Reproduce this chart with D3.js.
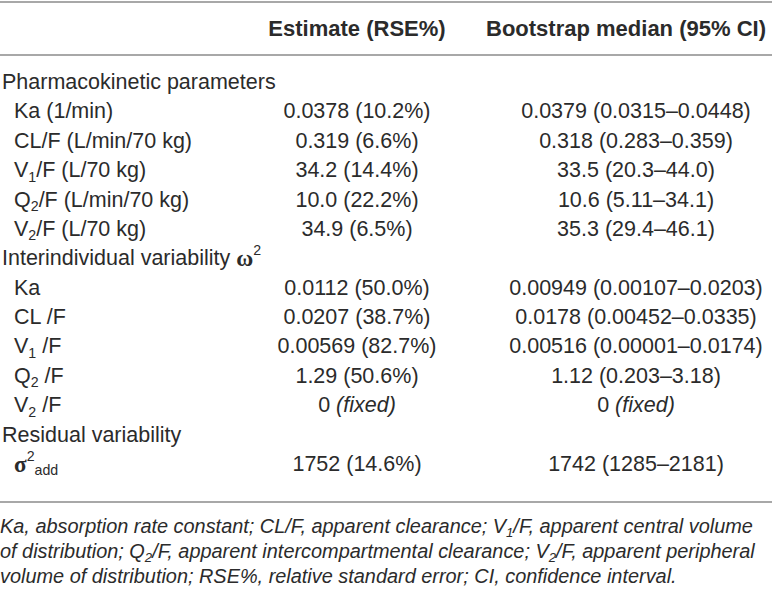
<!DOCTYPE html>
<html>
<head>
<meta charset="utf-8">
<script src="https://d3js.org/d3.v7.min.js"></script>
<style>
body{margin:0;background:#fff;}
svg text{font-family:"Liberation Sans",Arial,sans-serif;fill:#2b2b2b;}
</style>
</head>
<body>
<svg id="tbl" width="772" height="591"></svg>
<script>
// markup: {x} subscript, [x] superscript, |x| italic
var headers = ["Estimate (RSE%)", "Bootstrap median (95% CI)"];
var labels = [
  "Pharmacokinetic parameters",
  "Ka (1/min)",
  "CL/F (L/min/70 kg)",
  "V{1}/F (L/70 kg)",
  "Q{2}/F (L/min/70 kg)",
  "V{2}/F (L/70 kg)",
  "Interindividual variability ω[2]",
  "Ka",
  "CL /F",
  "V{1} /F",
  "Q{2} /F",
  "V{2} /F",
  "Residual variability",
  "σ[2]{add}"
];
var isSection = [1,0,0,0,0,0,1,0,0,0,0,0,1,0];
var estimates = ["", "0.0378 (10.2%)", "0.319 (6.6%)", "34.2 (14.4%)", "10.0 (22.2%)", "34.9 (6.5%)",
  "", "0.0112 (50.0%)", "0.0207 (38.7%)", "0.00569 (82.7%)", "1.29 (50.6%)", "0 |(fixed)|",
  "", "1752 (14.6%)"];
var bootstrap = ["", "0.0379 (0.0315–0.0448)", "0.318 (0.283–0.359)", "33.5 (20.3–44.0)", "10.6 (5.11–34.1)", "35.3 (29.4–46.1)",
  "", "0.00949 (0.00107–0.0203)", "0.0178 (0.00452–0.0335)", "0.00516 (0.00001–0.0174)", "1.12 (0.203–3.18)", "0 |(fixed)|",
  "", "1742 (1285–2181)"];
var footnote = [
  "Ka, absorption rate constant; CL/F, apparent clearance; V{1}/F, apparent central volume",
  "of distribution; Q{2}/F, apparent intercompartmental clearance; V{2}/F, apparent peripheral",
  "volume of distribution; RSE%, relative standard error; CI, confidence interval."
];

var W = 772, fs = 21.5, fsHead = 22, fsNote = 19.9;
var svg = d3.select("#tbl");
var y = d3.scalePoint().domain(d3.range(labels.length)).range([82, 464]);
var colX = {label:2, indent:14, est:357, boot:636, bootHead:626};

function rich(t, str, size){
  var re = /\{([^}]*)\}|\[([^\]]*)\]|\|([^|]*)\||([σω])|([^{\[|σω]+)/g, m, off = 0;
  while((m = re.exec(str))){
    var txt, target = 0, small = false, ital = false, greek = false;
    if(m[1] != null){ txt = m[1]; target = size*0.3; small = true; }
    else if(m[2] != null){ txt = m[2]; target = -size*0.38; small = true; }
    else if(m[3] != null){ txt = m[3]; ital = true; }
    else if(m[4] != null){ txt = m[4]; greek = true; }
    else txt = m[5];
    var ts = t.append("tspan").attr("dy", target - off).text(txt);
    if(small) ts.style("font-size", (size*0.66)+"px");
    if(ital) ts.style("font-style","italic");
    if(greek) ts.style("font-family","'Liberation Serif',serif").style("font-weight","bold").style("font-size",(size*1.08)+"px");
    off = target;
  }
}

// rules
svg.selectAll("line.rule").data([2, 55, 502]).enter().append("line")
  .attr("x1",0).attr("x2",W).attr("y1",d=>d).attr("y2",d=>d)
  .attr("stroke","#a8a8a8").attr("stroke-width",2.2);

// header
svg.selectAll("text.head").data(headers).enter().append("text")
  .attr("x",(d,i)=> i==0 ? colX.est : colX.bootHead).attr("y",28)
  .attr("text-anchor","middle").attr("dominant-baseline","central")
  .style("font-weight","bold").style("font-size",fsHead+"px").text(d=>d);

// labels
svg.selectAll("text.lab").data(labels).enter().append("text")
  .attr("x",(d,i)=> isSection[i] ? colX.label : colX.indent)
  .attr("y",(d,i)=>y(i)).attr("dominant-baseline","central")
  .style("font-size",fs+"px")
  .each(function(d){ rich(d3.select(this), d, fs); });

// values
[[estimates, colX.est],[bootstrap, colX.boot]].forEach(function(c){
  svg.append("g").selectAll("text").data(c[0]).enter().append("text")
    .attr("x",c[1]).attr("y",(d,i)=>y(i))
    .attr("text-anchor","middle").attr("dominant-baseline","central")
    .style("font-size",fs+"px")
    .each(function(d){ rich(d3.select(this), d, fs); });
});

// footnote
var fy = d3.scalePoint().domain(d3.range(footnote.length)).range([526, 576]);
svg.selectAll("text.fn").data(footnote).enter().append("text")
  .attr("x",0).attr("y",(d,i)=>fy(i)).attr("dominant-baseline","central")
  .style("font-size",fsNote+"px").style("font-style","italic")
  .each(function(d){ rich(d3.select(this), d, fsNote); });
</script>
</body>
</html>
